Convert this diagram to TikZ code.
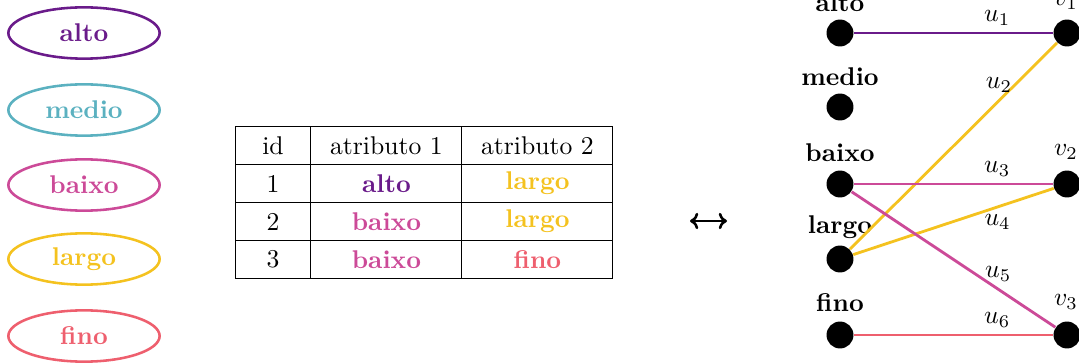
\documentclass[tikz,border=0pt]{standalone}
\usetikzlibrary{shapes.geometric,matrix,arrows.meta}
\definecolor{cAlto}{HTML}{6A1B8A}
\definecolor{cMedio}{HTML}{5BB1C0}
\definecolor{cBaixo}{HTML}{CC4A98}
\definecolor{cLargo}{HTML}{F4C21F}
\definecolor{cFino}{HTML}{EE5F6E}
\tikzset{
  attr/.style={ellipse, draw=#1, text=#1, line width=1pt, minimum width=59pt,
    minimum height=20pt, inner sep=0pt, font=\bfseries},
  vert/.style={circle, fill=black, minimum size=10.5pt, inner sep=0pt},
  vlabel/.style={font=\bfseries},
  edge/.style={line width=1.1pt, draw=#1},
  elabel/.style={pos=0.72, inner sep=2.5pt},
  cell/.style={draw, line width=0.4pt, minimum height=14.8pt, inner sep=0pt, anchor=center}
}
\begin{document}
\begin{tikzpicture}[x=0.39pt, y=-0.39pt]
\useasboundingbox (0,0) rectangle (1079,363);
\clip (0,0) rectangle (1079,363);

% attribute values
\node[attr=cAlto]  (eAlto)  at (84,33)  {alto};
\node[attr=cMedio] (eMedio) at (84,110) {medio};
\node[attr=cBaixo] (eBaixo) at (84,185) {baixo};
\node[attr=cLargo] (eLargo) at (84,259) {largo};
\node[attr=cFino]  (eFino)  at (84,336) {fino};

% records table
\matrix (tab) [matrix of nodes, column sep=-0.4pt, row sep=-0.4pt,
  nodes={cell},
  column 1/.style={nodes={minimum width=29.6pt}},
  column 2/.style={nodes={minimum width=58.9pt}},
  column 3/.style={nodes={minimum width=58.9pt}}]
  at (424,202.5) {
  id & atributo 1 & atributo 2 \\
  1 & \textcolor{cAlto}{\bfseries alto} & \textcolor{cLargo}{\bfseries largo} \\
  2 & \textcolor{cBaixo}{\bfseries baixo} & \textcolor{cLargo}{\bfseries largo} \\
  3 & \textcolor{cBaixo}{\bfseries baixo} & \textcolor{cFino}{\bfseries fino} \\
};

% equivalence arrow
\coordinate (arL) at (690,221);
\coordinate (arR) at (727,221);
\draw[line width=1pt, {Computer Modern Rightarrow[length=3.2pt,width=6.4pt]}-{Computer Modern Rightarrow[length=3.2pt,width=6.4pt]}] (arL) -- (arR);

% bipartite graph: values on the left, records on the right
\node[vert] (gAlto)  at (840,33)  {};
\node[vert] (gMedio) at (840,107) {};
\node[vert] (gBaixo) at (840,184) {};
\node[vert] (gLargo) at (840,259) {};
\node[vert] (gFino)  at (840,335) {};
\node[vert] (v1) at (1067,33)  {};
\node[vert] (v2) at (1067,184) {};
\node[vert] (v3) at (1067,335) {};

\node[vlabel] (lAlto)  at (840,3)   {alto};
\node[vlabel] (lMedio) at (840,77)  {medio};
\node[vlabel] (lBaixo) at (840,153) {baixo};
\node[vlabel] (lLargo) at (840,227) {largo};
\node[vlabel] (lFino)  at (840,303) {fino};
\node (lv1) at (1066,2)   {$v_1$};
\node (lv2) at (1066,152) {$v_2$};
\node (lv3) at (1066,302) {$v_3$};

\draw[edge=cAlto]  (gAlto)  -- (v1) node[elabel, above] (u1) {$u_1$};
\draw[edge=cLargo] (gLargo) -- (v1) node[elabel, above] (u2) {$u_2$};
\draw[edge=cBaixo] (gBaixo) -- (v2) node[elabel, above] (u3) {$u_3$};
\draw[edge=cLargo] (gLargo) -- (v2) node[elabel, below] (u4) {$u_4$};
\draw[edge=cBaixo] (gBaixo) -- (v3) node[elabel, above] (u5) {$u_5$};
\draw[edge=cFino]  (gFino)  -- (v3) node[elabel, above] (u6) {$u_6$};
\end{tikzpicture}
\end{document}
